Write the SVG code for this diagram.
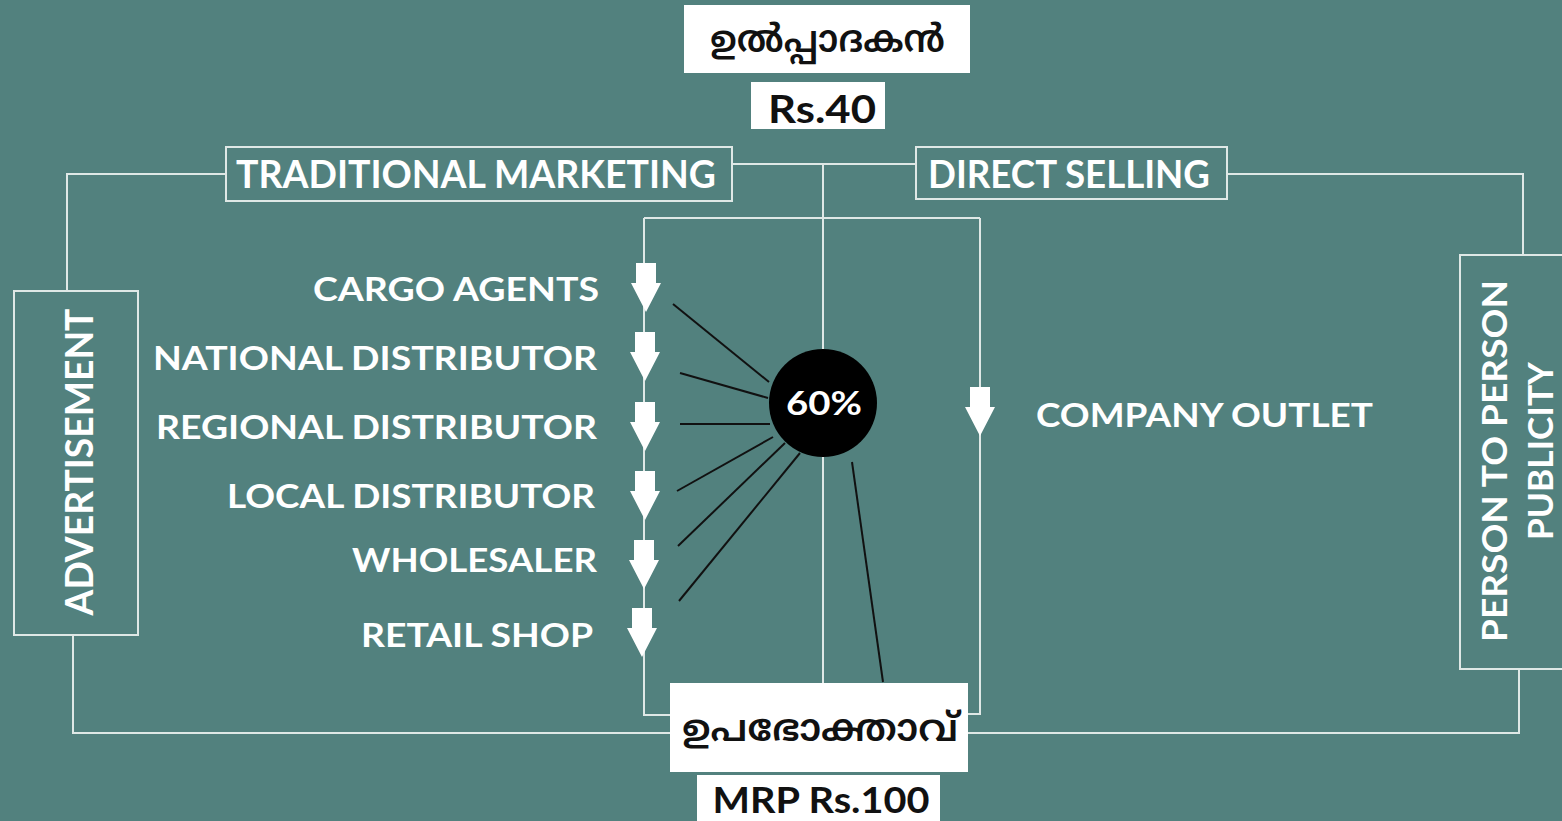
<svg xmlns="http://www.w3.org/2000/svg" width="1562" height="821" viewBox="0 0 1562 821">
  <defs>
    <style>
      .frame { fill: none; stroke: #dfe8e6; stroke-width: 2; }
      .wire { fill: none; stroke: #dfe8e6; stroke-width: 2; }
      .spoke { fill: none; stroke: #111; stroke-width: 2; }
      .plate { fill: #ffffff; }
      .lbl { font-family: Lato, "Open Sans", "Liberation Sans", sans-serif; font-weight: bold; fill: #ffffff; }
      .dark { font-family: Lato, "Open Sans", "Liberation Sans", sans-serif; font-weight: bold; fill: #111111; }
      .ml { font-family: "Noto Sans Malayalam", "Noto Sans", "DejaVu Sans", sans-serif; font-weight: 600; fill: #111111; }
      .arrow { fill: #ffffff; }
    </style>
    <path id="downArrow" d="M-10,0 H10 V20 H15 L0,49 L-15,20 H-10 Z"/>
  </defs>

  <rect width="1562" height="821" fill="#52817e"/>

  <!-- connectors -->
  <g id="connectors">
    <!-- producer trunk and branch to both channels -->
    <path class="wire" d="M732,164 H916"/>
    <path class="wire" d="M823,164 V684"/>
    <!-- inner distribution frame -->
    <path class="wire" d="M644,218 H980"/>
    <path class="wire" d="M644,218 V715 H670"/>
    <path class="wire" d="M980,218 V714 H968"/>
    <!-- outer advertisement loop -->
    <path class="wire" d="M226,174 H67 V291"/>
    <path class="wire" d="M73,635 V733 H670"/>
    <!-- outer publicity loop -->
    <path class="wire" d="M1227,174 H1523 V255"/>
    <path class="wire" d="M1519,669 V733 H968"/>
    <!-- spokes from the 60% hub -->
    <path class="spoke" d="M673,304 L769,382"/>
    <path class="spoke" d="M680,373 L768,398"/>
    <path class="spoke" d="M680,424 L770,424"/>
    <path class="spoke" d="M677,491 L773,437"/>
    <path class="spoke" d="M678,546 L785,443"/>
    <path class="spoke" d="M679,601 L800,453"/>
    <path class="spoke" d="M852,462 L883,682"/>
    <!-- down arrows along the chain -->
    <use href="#downArrow" class="arrow" x="646" y="263"/>
    <use href="#downArrow" class="arrow" x="645" y="332"/>
    <use href="#downArrow" class="arrow" x="645" y="402"/>
    <use href="#downArrow" class="arrow" x="645" y="471"/>
    <use href="#downArrow" class="arrow" x="644" y="540"/>
    <use href="#downArrow" class="arrow" x="642" y="608"/>
    <use href="#downArrow" class="arrow" x="980" y="387"/>
  </g>

  <!-- producer -->
  <g id="producer">
    <rect class="plate" x="684" y="5" width="286" height="68"/>
    <text class="ml" x="710" y="52" font-size="38" textLength="235" lengthAdjust="spacingAndGlyphs">ഉൽപ്പാദകൻ</text>
  </g>
  <g id="producer-price">
    <rect class="plate" x="751" y="82" width="134" height="47"/>
    <text class="dark" x="822" y="123" font-size="38" text-anchor="middle" textLength="108" lengthAdjust="spacingAndGlyphs">Rs.40</text>
  </g>

  <!-- channel headers -->
  <g id="traditional">
    <rect class="frame" x="226" y="147" width="506" height="54"/>
    <text class="lbl" x="236" y="188" font-size="38" textLength="480" lengthAdjust="spacingAndGlyphs">TRADITIONAL MARKETING</text>
  </g>
  <g id="direct">
    <rect class="frame" x="916" y="147" width="311" height="52"/>
    <text class="lbl" x="928" y="188" font-size="38" textLength="282" lengthAdjust="spacingAndGlyphs">DIRECT SELLING</text>
  </g>

  <!-- side boxes -->
  <g id="advertisement">
    <rect class="frame" x="14" y="291" width="124" height="344"/>
    <text class="lbl" transform="translate(93,462) rotate(-90)" font-size="38" text-anchor="middle" textLength="307" lengthAdjust="spacingAndGlyphs">ADVERTISEMENT</text>
  </g>
  <g id="publicity">
    <rect class="frame" x="1460" y="255" width="110" height="414"/>
    <text class="lbl" transform="translate(1507,461) rotate(-90)" font-size="35" text-anchor="middle" textLength="362" lengthAdjust="spacingAndGlyphs">PERSON TO PERSON</text>
    <text class="lbl" transform="translate(1553,451) rotate(-90)" font-size="35" text-anchor="middle" textLength="178" lengthAdjust="spacingAndGlyphs">PUBLICITY</text>
  </g>

  <!-- intermediaries -->
  <g id="cargo-agents">
    <text class="lbl" x="599" y="301" font-size="33" text-anchor="end" textLength="286" lengthAdjust="spacingAndGlyphs">CARGO AGENTS</text>
  </g>
  <g id="national-distributor">
    <text class="lbl" x="597" y="370" font-size="33" text-anchor="end" textLength="444" lengthAdjust="spacingAndGlyphs">NATIONAL DISTRIBUTOR</text>
  </g>
  <g id="regional-distributor">
    <text class="lbl" x="597" y="439" font-size="33" text-anchor="end" textLength="441" lengthAdjust="spacingAndGlyphs">REGIONAL DISTRIBUTOR</text>
  </g>
  <g id="local-distributor">
    <text class="lbl" x="595" y="508" font-size="33" text-anchor="end" textLength="368" lengthAdjust="spacingAndGlyphs">LOCAL DISTRIBUTOR</text>
  </g>
  <g id="wholesaler">
    <text class="lbl" x="597" y="572" font-size="33" text-anchor="end" textLength="245" lengthAdjust="spacingAndGlyphs">WHOLESALER</text>
  </g>
  <g id="retail-shop">
    <text class="lbl" x="593" y="647" font-size="33" text-anchor="end" textLength="232" lengthAdjust="spacingAndGlyphs">RETAIL SHOP</text>
  </g>
  <g id="company-outlet">
    <text class="lbl" x="1036" y="427" font-size="33" textLength="337" lengthAdjust="spacingAndGlyphs">COMPANY OUTLET</text>
  </g>

  <!-- margin hub -->
  <g id="margin">
    <circle cx="823" cy="403" r="54" fill="#000000"/>
    <text class="lbl" x="824" y="415" font-size="33" text-anchor="middle" textLength="76" lengthAdjust="spacingAndGlyphs">60%</text>
  </g>

  <!-- consumer -->
  <g id="consumer">
    <rect class="plate" x="670" y="683" width="298" height="89"/>
    <text class="ml" x="682" y="741" font-size="38" textLength="276" lengthAdjust="spacingAndGlyphs">ഉപഭോക്താവ്</text>
  </g>
  <g id="consumer-price">
    <rect class="plate" x="697" y="775" width="243" height="50"/>
    <text class="dark" x="821" y="813" font-size="36" text-anchor="middle" textLength="217" lengthAdjust="spacingAndGlyphs">MRP Rs.100</text>
  </g>
</svg>
